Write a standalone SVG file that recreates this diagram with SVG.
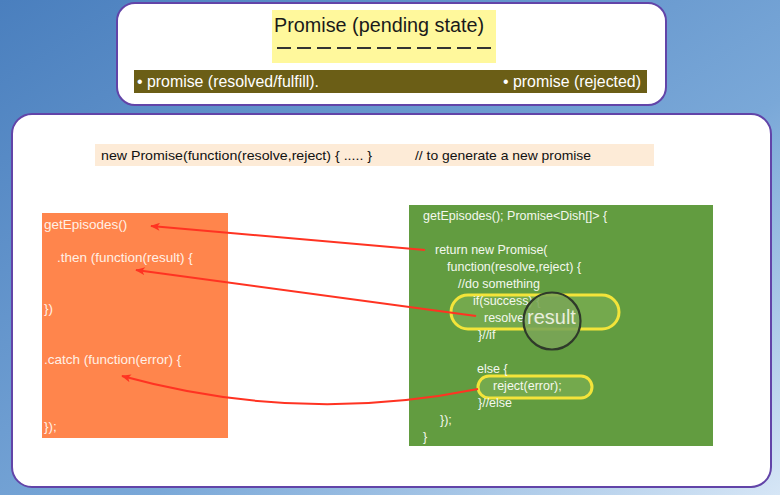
<svg xmlns="http://www.w3.org/2000/svg" width="780" height="495" viewBox="0 0 780 495">
<defs>
<linearGradient id="bg" x1="0" y1="0" x2="1" y2="1">
<stop offset="0" stop-color="#4a7fbe"/>
<stop offset="0.6" stop-color="#7aa8d8"/>
<stop offset="1" stop-color="#d6e6f6"/>
</linearGradient>
<marker id="ah" viewBox="0 0 12 10" refX="11" refY="5" markerWidth="11" markerHeight="8" orient="auto" markerUnits="userSpaceOnUse">
<path d="M0,0 L12,5 L0,10 L3,5 z" fill="#ff3322"/>
</marker>
<style>
.panel{fill:#ffffff;stroke:#6244a8;stroke-width:2}
.t{font-family:"Liberation Sans",Arial,sans-serif}
.ot{font-family:"Liberation Sans",Arial,sans-serif;font-size:13.5px;fill:#fff0e6}
.gt{font-family:"Liberation Sans",Arial,sans-serif;font-size:12.5px;fill:#f4f8ee}
.conn{fill:none;stroke:#ff3322;stroke-width:2}
.pill{fill:#74a94d;stroke:#f3e43a;stroke-width:3}
</style>
</defs>
<rect x="0" y="0" width="780" height="495" fill="url(#bg)"/>

<g id="top-panel">
<rect class="panel" x="117" y="3" width="549" height="102" rx="18"/>
</g>
<g id="pending">
<rect x="272" y="10" width="224" height="53" fill="#fff89c"/>
<text class="t" x="274" y="32" font-size="20" fill="#1a1a1a" textLength="210" lengthAdjust="spacingAndGlyphs">Promise (pending state)</text>
<line x1="277" y1="48" x2="492" y2="48" stroke="#333" stroke-width="2" stroke-dasharray="14,6"/>
</g>
<g id="states">
<rect x="134" y="70" width="513" height="23" fill="#6b5e16"/>
<text class="t" x="137" y="87" font-size="16" fill="#ffffff" textLength="182" lengthAdjust="spacingAndGlyphs">• promise (resolved/fulfill).</text>
<text class="t" x="503" y="87" font-size="16" fill="#ffffff" textLength="138" lengthAdjust="spacingAndGlyphs">• promise (rejected)</text>
</g>

<g id="main-panel">
<rect class="panel" x="12" y="114" width="759" height="373" rx="20"/>
</g>
<g id="constructor">
<rect x="95" y="144" width="559" height="22" fill="#fdebd7"/>
<text class="t" x="101" y="160" font-size="13" fill="#111" textLength="271" lengthAdjust="spacingAndGlyphs">new Promise(function(resolve,reject) { ..... }</text>
<text class="t" x="415" y="160" font-size="13" fill="#111" textLength="176" lengthAdjust="spacingAndGlyphs">// to generate a new promise</text>
</g>

<g id="consumer">
<rect x="42" y="213" width="186" height="225" fill="#ff854c"/>
<text class="ot" x="44" y="229">getEpisodes()</text>
<text class="ot" x="57" y="262">.then (function(result) {</text>
<text class="ot" x="44" y="313">})</text>
<text class="ot" x="44" y="364">.catch (function(error) {</text>
<text class="ot" x="44" y="431">});</text>
</g>

<g id="producer">
<rect x="409" y="205" width="304" height="241" fill="#629c40"/>
<rect class="pill" x="451" y="295" width="168" height="34" rx="17"/>
<rect class="pill" x="478" y="376" width="114" height="22" rx="11"/>
<text class="gt" x="423" y="220">getEpisodes(); Promise&lt;Dish[]&gt; {</text>
<text class="gt" x="435" y="254">return new Promise(</text>
<text class="gt" x="447" y="271">function(resolve,reject) {</text>
<text class="gt" x="458" y="288">//do something</text>
<text class="gt" x="473" y="305">if(success) {</text>
<text class="gt" x="484" y="322">resolve(result);</text>
<text class="gt" x="478" y="339">}//if</text>
<text class="gt" x="477" y="373">else {</text>
<text class="gt" x="493" y="390">reject(error);</text>
<text class="gt" x="478" y="407">}//else</text>
<text class="gt" x="440" y="424">});</text>
<text class="gt" x="423" y="441">}</text>
</g>

<g id="magnifier">
<circle cx="552" cy="321" r="28.5" fill="#7aa556" fill-opacity="0.88" stroke="#2f3a2a" stroke-width="2.2"/>
<text class="t" x="527" y="324" font-size="20" fill="#e8eedd">result</text>
</g>

<g id="connectors">
<path class="conn" d="M425,250 L151,226" marker-end="url(#ah)"/>
<path class="conn" d="M476,316 L136,270" marker-end="url(#ah)"/>
<path class="conn" d="M478,389 Q300,425 122,376" marker-end="url(#ah)"/>
</g>
</svg>
